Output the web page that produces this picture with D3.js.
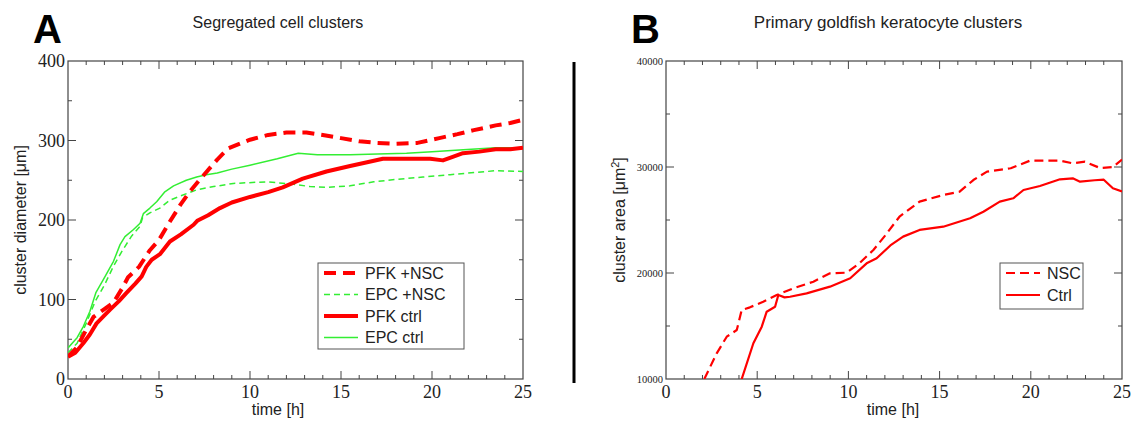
<!DOCTYPE html>
<html>
<head>
<meta charset="utf-8">
<title>cluster growth</title>
<script src="https://cdn.jsdelivr.net/npm/d3@7"></script>
<style>
body { margin:0; background:#fff; }
svg text { fill:#222; }
.tick-lab { font-family:"Liberation Serif", serif; }
.sans { font-family:"Liberation Sans", Arial, sans-serif; }
</style>
</head>
<body>
<script>
// panel A: segregated cell clusters, [time h, diameter um]
var pfkNsc = [[0,28],[0.5,40],[1,62],[1.4,78],[2,88],[2.5,96],[3,115],[3.3,128],[3.9,141],[4.5,162],[5,175],[5.6,198],[6.2,220],[6.7,236],[7.4,255],[8.2,276],[8.8,290],[10,301],[11,307],[12,310],[13.1,310],[14,307],[15,303],[16,299],[17,297],[18,296],[19.2,297],[20.4,303],[21.4,308],[22.3,313],[23.5,319],[24.3,322],[25,326]];
var epcNsc = [[0,33],[0.5,45],[1,70],[1.5,98],[2,118],[2.5,142],[3,162],[3.5,180],[3.95,192],[4.1,203],[4.5,209],[5.05,215],[5.6,225],[6.15,230],[7.07,238],[8,242],[9.08,246],[10.9,248],[12.4,245],[13.3,242],[14.2,241],[15.5,243],[16.8,248],[18,251],[19.5,254],[21,257],[22.5,260],[23.5,262],[25,261]];
var pfkCtrl = [[0,28],[0.4,33],[0.84,45],[1.2,56],[1.57,70],[2,80],[2.3,87],[2.8,98],[3.2,108],[3.7,120],[4.05,129],[4.3,141],[4.6,150],[5.05,157],[5.6,173],[6.2,182],[6.9,194],[7.1,199],[7.7,206],[8.35,215],[9,222],[10,229],[11,235],[11.8,241],[12.9,252],[14.2,261],[15.5,268],[16.5,273],[17.3,277],[18.5,277],[19.9,277],[20.6,275],[21.1,279],[21.7,284],[22.6,286],[23.5,289],[24.3,289],[25,291]];
var epcCtrl = [[0,39],[0.5,52],[0.84,66],[1.2,85],[1.54,109],[1.94,125],[2.5,148],[2.86,169],[3.13,179],[3.6,188],[3.96,196],[4.14,208],[4.5,215],[4.87,223],[5.3,235],[5.8,243],[6.5,250],[7.07,254],[7.6,257],[8.2,259],[9,264],[10,269],[11.5,277],[12.65,284],[13.7,282],[15.5,282],[17,283],[18.6,284],[20,286],[21.5,288],[23.5,291],[25,291]];

// panel B: goldfish keratocyte clusters, [time h, area um^2]
var nsc = [[2.1,10000],[2.78,12420],[3.33,13990],[3.88,14620],[4.15,16510],[4.6,16760],[5.33,17290],[6.07,17920],[6.98,18550],[8.08,19180],[8.99,19970],[9.9,20030],[10.6,20910],[11.37,22170],[12,23500],[12.8,25310],[13.9,26730],[15.2,27360],[16.1,27670],[16.85,28770],[17.6,29560],[18.9,29880],[19.96,30600],[21.6,30600],[22.3,30350],[22.97,30500],[23.8,29900],[24.5,30000],[25,30700]];
var ctrl = [[4.15,10000],[4.79,13370],[5.25,14940],[5.52,16350],[5.98,16820],[6.16,17920],[6.5,17700],[6.8,17760],[7.71,18080],[8.99,18710],[10.1,19500],[11,20910],[11.55,21390],[12.3,22600],[13,23430],[13.9,24060],[15.2,24370],[16.67,25160],[17.4,25780],[18.3,26730],[19.04,27050],[19.6,27830],[20.5,28210],[21.6,28840],[22.3,28930],[22.7,28620],[23.5,28750],[24,28800],[24.5,28000],[25,27700]];

var xTicks = [0,5,10,15,20,25];
var yTicksA = [0,100,200,300,400];
var yTicksB = [10000,20000,30000,40000];
var legendA = ["PFK +NSC","EPC +NSC","PFK ctrl","EPC ctrl"];
var legendB = ["NSC","Ctrl"];

var svg = d3.select("body").append("svg").attr("width",1133).attr("height",421);

// draws frame + ticks on all 4 sides, returns scales
function panel(left, right, top, bottom, ydom, yt, yminor, ylabSize, id){
	var x = d3.scaleLinear().domain([0,25]).range([left,right]);
	var y = d3.scaleLinear().domain(ydom).range([bottom,top]);
	var g = svg.append("g");
	g.append("rect").attr("x",left).attr("y",top).attr("width",right-left).attr("height",bottom-top)
		.attr("fill","none").attr("stroke","#444").attr("stroke-width",1.2);
	var tk = g.append("g").attr("stroke","#444").attr("stroke-width",1);
	d3.range(0,26,1).forEach(function(t){
		var L = t%5==0 ? 8 : 4;
		if(t==0||t==25) return;
		tk.append("line").attr("x1",x(t)).attr("x2",x(t)).attr("y1",bottom).attr("y2",bottom-L);
		tk.append("line").attr("x1",x(t)).attr("x2",x(t)).attr("y1",top).attr("y2",top+L);
	});
	d3.range(ydom[0],ydom[1]+1,yminor).forEach(function(v,i){
		if(v==ydom[0]||v==ydom[1]) return;
		var L = yt.indexOf(v)>=0 ? 8 : 4;
		tk.append("line").attr("y1",y(v)).attr("y2",y(v)).attr("x1",left).attr("x2",left+L);
		tk.append("line").attr("y1",y(v)).attr("y2",y(v)).attr("x1",right).attr("x2",right-L);
	});
	g.selectAll("text.xl").data(xTicks).enter().append("text").attr("class","tick-lab")
		.attr("x",function(d){return x(d);}).attr("y",bottom+19).attr("text-anchor","middle")
		.style("font-size","18px").text(function(d){return d;});
	g.selectAll("text.yl").data(yt).enter().append("text").attr("class","tick-lab")
		.attr("x",left-3).attr("y",function(d){return y(d);}).attr("dy","0.35em").attr("text-anchor","end")
		.style("font-size",ylabSize+"px").text(function(d){return d;});
	svg.append("clipPath").attr("id",id).append("rect")
		.attr("x",left).attr("y",top).attr("width",right-left).attr("height",bottom-top);
	return {x:x, y:y};
}

var A = panel(68,523,61,379,[0,400],yTicksA,50,18,"clipA");
var B = panel(666,1122,61,379,[10000,40000],yTicksB,5000,10.5,"clipB");

function draw(s, data, color, w, dash, clip){
	var line = d3.line().x(function(d){return s.x(d[0]);}).y(function(d){return s.y(d[1]);});
	svg.append("path").datum(data).attr("d",line).attr("fill","none")
		.attr("stroke",color).attr("stroke-width",w).attr("stroke-dasharray",dash)
		.attr("stroke-linejoin","round").attr("clip-path","url(#"+clip+")");
}
var red = "#ff0000", green = "#33ee33";
var stylesA = [[red,4,"12,7"],[green,1.5,"6,4"],[red,4,null],[green,1.5,null]];
draw(A, epcNsc, green, 1.5, "6,4", "clipA");
draw(A, epcCtrl, green, 1.5, null, "clipA");
draw(A, pfkCtrl, red, 4, null, "clipA");
draw(A, pfkNsc, red, 4, "12,7", "clipA");
draw(B, nsc, red, 2.2, "9,5", "clipB");
draw(B, ctrl, red, 2.2, null, "clipB");

// legends
function legend(x0, y0, w, h, names, styles, rowH){
	svg.append("rect").attr("x",x0).attr("y",y0).attr("width",w).attr("height",h)
		.attr("fill","#fff").attr("stroke","#555").attr("stroke-width",1);
	names.forEach(function(n,i){
		var yy = y0+10+rowH*i;
		svg.append("line").attr("x1",x0+6).attr("x2",x0+40).attr("y1",yy).attr("y2",yy)
			.attr("stroke",styles[i][0]).attr("stroke-width",styles[i][1]).attr("stroke-dasharray",styles[i][2]);
		svg.append("text").attr("class","sans").attr("x",x0+47).attr("y",yy).attr("dy","0.36em")
			.style("font-size","16px").text(n);
	});
}
legend(318,263,146,86,legendA,stylesA,21.5);
legend(1000,263,83,46,legendB,[[red,2.2,"9,5"],[red,2.2,null]],22);

// titles and axis labels
svg.append("text").attr("class","sans").attr("x",278).attr("y",28).attr("text-anchor","middle")
	.style("font-size","16px").text("Segregated cell clusters");
svg.append("text").attr("class","sans").attr("x",888).attr("y",28).attr("text-anchor","middle")
	.style("font-size","17px").text("Primary goldfish keratocyte clusters");
svg.append("text").attr("class","sans").attr("x",33).attr("y",43).style("font-size","40px")
	.style("font-weight","bold").style("fill","#000").text("A");
svg.append("text").attr("class","sans").attr("x",631).attr("y",43).style("font-size","40px")
	.style("font-weight","bold").style("fill","#000").text("B");
svg.append("text").attr("class","sans").attr("x",278).attr("y",415).attr("text-anchor","middle")
	.style("font-size","16px").text("time [h]");
svg.append("text").attr("class","sans").attr("x",893).attr("y",415).attr("text-anchor","middle")
	.style("font-size","16px").text("time [h]");
svg.append("text").attr("class","sans").attr("transform","translate(26,220) rotate(-90)")
	.attr("text-anchor","middle").style("font-size","16px").text("cluster diameter [\u03bcm]");
var tb = svg.append("text").attr("class","sans").attr("transform","translate(625,220) rotate(-90)")
	.attr("text-anchor","middle").style("font-size","16px");
tb.append("tspan").text("cluster area [\u03bcm");
tb.append("tspan").attr("dy","-6").style("font-size","11px").text("2");
tb.append("tspan").attr("dy","6").text("]");

// divider
svg.append("line").attr("x1",574).attr("x2",574).attr("y1",62).attr("y2",383)
	.attr("stroke","#000").attr("stroke-width",3);
</script>
</body>
</html>
